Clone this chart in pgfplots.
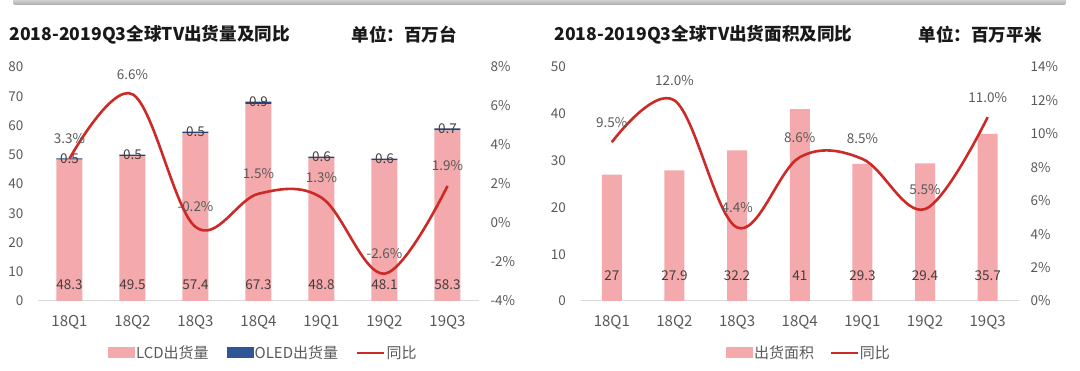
\documentclass[border=0pt]{standalone}
\usepackage{fontspec}
\setmainfont{Noto Sans CJK SC}
\usepackage{pgfplots}
\pgfplotsset{compat=1.18}
\usepackage{pgfplotstable}
\definecolor{barpink}{RGB}{244,170,172}
\definecolor{linered}{RGB}{204,42,38}
\definecolor{oledblue}{RGB}{47,85,151}
\definecolor{ticktxt}{RGB}{89,89,89}
\definecolor{labtxt}{RGB}{70,60,60}
\definecolor{axgray}{RGB}{217,217,217}

\pgfplotstableread{
x lcd oled yoy
0 48.3 0.5 3.3
1 49.5 0.5 6.6
2 57.4 0.5 -0.2
3 67.3 0.9 1.5
4 48.8 0.6 1.3
5 48.1 0.6 -2.6
6 58.3 0.7 1.9
}\tvunits

\pgfplotstableread{
x area yoy
0 27 9.5
1 27.9 12.0
2 32.2 4.4
3 41 8.6
4 29.3 8.5
5 29.4 5.5
6 35.7 11.0
}\tvarea

\pgfplotsset{
  base/.style={
    scale only axis, height=234pt,
    xmin=-0.5, xmax=6.5,
    major tick length=0pt,
    tick style={draw=none},
    ticklabel style={font=\fontsize{13.5}{14}\selectfont, text=ticktxt},
    /pgf/number format/assume math mode=true,
    clip=false,
  },
  patchleg/.style={legend image code/.code={\fill[##1, draw=none] (0pt,-5.5pt) rectangle (27pt,5.5pt);}},
  lineleg/.style={legend image code/.code={\draw[##1] (0pt,0pt) -- (27pt,0pt);}},
  lab/.style={draw=none, mark=none, forget plot,
    nodes near coords, point meta=explicit symbolic,
    every node near coord/.append style={anchor=center, font=\fontsize{13.5}{14}\selectfont, text=labtxt}},
}

\begin{document}
\begin{tikzpicture}
\useasboundingbox (0,0) rectangle (1080pt,371pt);
\shade[top color=gray!25, bottom color=gray!65, rounded corners=2pt] (13pt,373pt) rectangle (1066pt,366pt);

% titles
\node[anchor=west, font=\bfseries\fontsize{17.6}{18}\selectfont, text=black!90] at (6pt,336pt) {2018-2019Q3全球TV出货量及同比};
\node[anchor=west, font=\bfseries\fontsize{17.6}{18}\selectfont, text=black!90] at (348pt,336pt) {单位：百万台};
\node[anchor=west, font=\bfseries\fontsize{17.6}{18}\selectfont, text=black!90] at (551pt,336pt) {2018-2019Q3全球TV出货面积及同比};
\node[anchor=west, font=\bfseries\fontsize{17.6}{18}\selectfont, text=black!90] at (915pt,336pt) {单位：百万平米};

% ===== Left chart: bars =====
\begin{axis}[base, width=441pt, at={(38pt,70pt)}, anchor=south west,
  ybar stacked, bar width=26pt,
  ymin=0, ymax=80, ytick={0,10,...,80},
  xtick={0,...,6}, xticklabels={18Q1,18Q2,18Q3,18Q4,19Q1,19Q2,19Q3},
  axis x line*=bottom, axis y line*=left,
  x axis line style={axgray, line width=1pt},
  y axis line style={draw=none},
  yticklabel style={xshift=-11pt},
  xticklabel style={yshift=-11pt, font=\fontsize{15}{15}\selectfont},
]
\addplot[fill=barpink, draw=none] table[x=x, y=lcd] {\tvunits};
\addplot[fill=oledblue!80!black, draw=none] table[x=x, y=oled] {\tvunits};
\end{axis}
% labels on bars
\begin{axis}[base, width=441pt, at={(38pt,70pt)}, anchor=south west,
  ymin=0, ymax=80, hide axis]
\addplot[lab] table[x=x, y expr=5.5, meta=lcd] {\tvunits};
\addplot[lab] table[x=x, y expr=\thisrow{lcd}+\thisrow{oled}, meta=oled] {\tvunits};
\end{axis}
% yoy line
\begin{axis}[base, width=441pt, at={(38pt,70pt)}, anchor=south west,
  ymin=-4, ymax=8, ytick={-4,-2,...,8},
  yticklabels={-4\%,-2\%,0\%,2\%,4\%,6\%,8\%},
  axis y line*=right, y axis line style={draw=none},
  hide x axis,
  yticklabel style={xshift=8pt},
  legend style={at={(0.51,-0.222)}, anchor=center, draw=none, fill=none,
    legend columns=3, font=\fontsize{15}{15}\selectfont, text=ticktxt,
    /tikz/every even column/.append style={column sep=17pt},
    nodes={inner xsep=1pt}},
]
\addlegendimage{patchleg, fill=barpink}
\addlegendentry{LCD出货量}
\addlegendimage{patchleg, fill=oledblue}
\addlegendentry{OLED出货量}
\addplot[linered, line width=2.6pt, smooth, tension=0.6, lineleg] table[x=x, y=yoy] {\tvunits};
\addlegendentry{同比}
\addplot[lab, every node near coord/.append style={yshift=20pt, text=ticktxt}, nodes near coords={\pgfplotspointmeta\%}] table[x=x, y=yoy, meta=yoy] {\tvunits};
\end{axis}

% ===== Right chart =====
\begin{axis}[base, width=438.5pt, at={(580.5pt,70pt)}, anchor=south west,
  ybar, bar width=20pt, bar shift=0pt,
  ymin=0, ymax=50, ytick={0,10,...,50},
  xtick={0,...,6}, xticklabels={18Q1,18Q2,18Q3,18Q4,19Q1,19Q2,19Q3},
  axis x line*=bottom, axis y line*=left,
  x axis line style={axgray, line width=1pt},
  y axis line style={draw=none},
  yticklabel style={xshift=-11pt},
  xticklabel style={yshift=-11pt, font=\fontsize{15}{15}\selectfont},
]
\addplot[fill=barpink, draw=none] table[x=x, y=area] {\tvarea};
\end{axis}
\begin{axis}[base, width=438.5pt, at={(580.5pt,70pt)}, anchor=south west,
  ymin=0, ymax=50, hide axis]
\addplot[lab] table[x=x, y expr=5.5, meta=area] {\tvarea};
\end{axis}
\begin{axis}[base, width=438.5pt, at={(580.5pt,70pt)}, anchor=south west,
  ymin=0, ymax=14, ytick={0,2,...,14},
  yticklabels={0\%,2\%,4\%,6\%,8\%,10\%,12\%,14\%},
  axis y line*=right, y axis line style={draw=none},
  hide x axis,
  yticklabel style={xshift=8pt},
  legend style={at={(0.52,-0.222)}, anchor=center, draw=none, fill=none,
    legend columns=2, font=\fontsize{15}{15}\selectfont, text=ticktxt,
    /tikz/every even column/.append style={column sep=14pt},
    nodes={inner xsep=1pt}},
]
\addlegendimage{patchleg, fill=barpink}
\addlegendentry{出货面积}
\addplot[linered, line width=2.6pt, smooth, tension=0.6, lineleg] table[x=x, y=yoy] {\tvarea};
\addlegendentry{同比}
\addplot[lab, every node near coord/.append style={yshift=20pt, text=ticktxt}, nodes near coords={\pgfplotspointmeta\%}] table[x=x, y=yoy, meta=yoy] {\tvarea};
\end{axis}
\end{tikzpicture}
\end{document}
